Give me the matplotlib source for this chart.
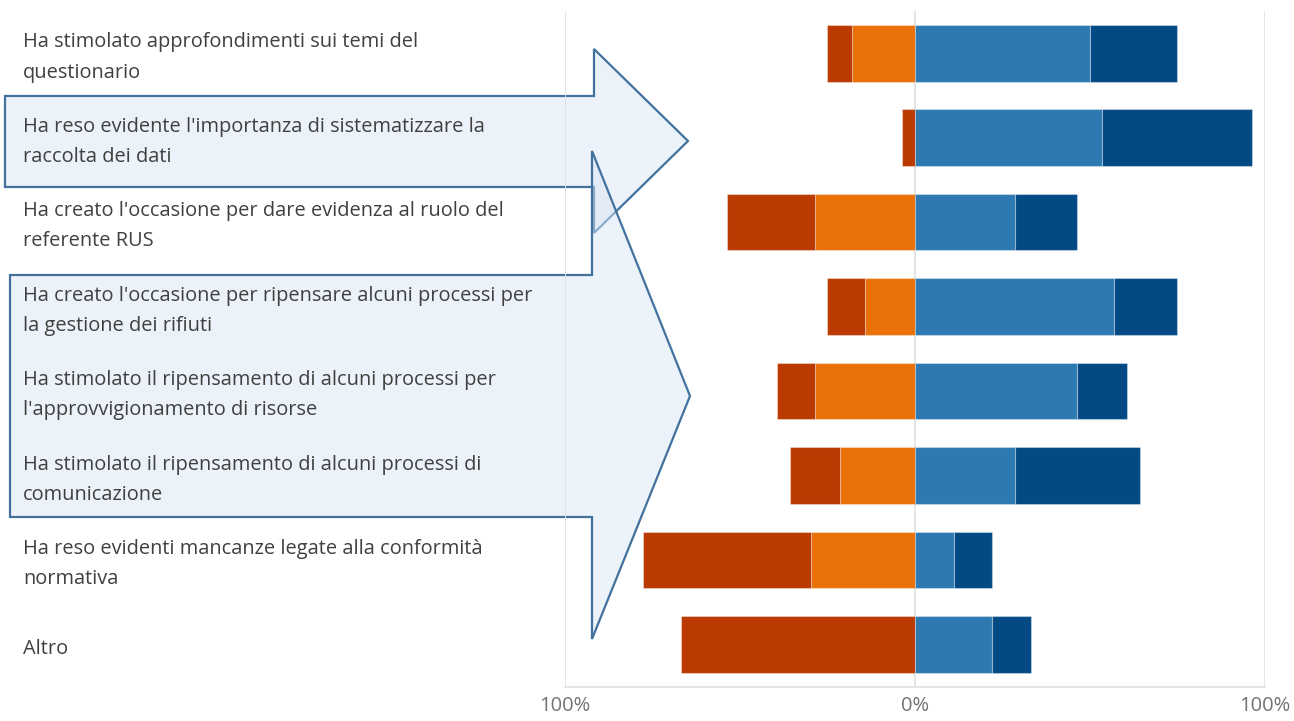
import matplotlib
matplotlib.use("Agg")
import matplotlib.pyplot as plt
import matplotlib.transforms as mtransforms
from matplotlib.patches import Polygon
import numpy as np

plt.rcParams["font.family"] = ["Open Sans", "DejaVu Sans"]

# dati (percentuali per risposta)
labels = [
    "Ha stimolato approfondimenti sui temi del\nquestionario",
    "Ha reso evidente l'importanza di sistematizzare la\nraccolta dei dati",
    "Ha creato l'occasione per dare evidenza al ruolo del\nreferente RUS",
    "Ha creato l'occasione per ripensare alcuni processi per\nla gestione dei rifiuti",
    "Ha stimolato il ripensamento di alcuni processi per\nl'approvvigionamento di risorse",
    "Ha stimolato il ripensamento di alcuni processi di\ncomunicazione",
    "Ha reso evidenti mancanze legate alla conformità\nnormativa",
    "Altro",
]
per_niente = [7.1, 3.6, 25.0, 10.7, 10.7, 14.3, 48.1, 66.7]
poco = [17.9, 0.0, 28.6, 14.3, 28.6, 21.4, 29.6, 0.0]
abbastanza = [50.0, 53.6, 28.6, 57.1, 46.4, 28.6, 11.1, 22.2]
molto = [25.0, 42.9, 17.9, 17.9, 14.3, 35.7, 11.1, 11.1]
x_ticks = [-100, 0, 100]
x_ticklabels = ["100%", "0%", "100%"]

colors = {
    "per_niente": "#BA3A02",
    "poco": "#EA7107",
    "abbastanza": "#2C7AB1",
    "molto": "#034A85",
}

W, H = 1294, 721
fig = plt.figure(figsize=(W / 100, H / 100), dpi=100)

# forme a freccia (sotto il testo)
over = fig.add_axes([0, 0, 1, 1], zorder=0)
over.set_xlim(0, W)
over.set_ylim(H, 0)
over.axis("off")

arrow1 = [(5, 96), (594, 96), (594, 49), (688, 141), (594, 233), (594, 187), (5, 187)]
arrow2 = [(10, 275), (592, 275), (592, 151), (690, 396), (592, 639), (592, 517), (10, 517)]
for pts in (arrow1, arrow2):
    over.add_patch(Polygon(pts, closed=True, facecolor=(0.855, 0.90, 0.955, 0.5),
                           edgecolor="#41719C", linewidth=1.6, joinstyle="miter"))

ax = fig.add_axes([565 / W, 1 - 686.7 / H, 699.5 / W, 675.7 / H], zorder=1)
ax.patch.set_visible(False)

y = np.arange(len(labels))
pn = np.array(per_niente)
po = np.array(poco)
ab = np.array(abbastanza)
mo = np.array(molto)
bh = 0.67
edge = dict(edgecolor=(1, 1, 1, 0.35), linewidth=0.8)

ax.barh(y, -po, height=bh, color=colors["poco"], **edge, zorder=3)
ax.barh(y, -pn, left=-po, height=bh, color=colors["per_niente"], **edge, zorder=3)
ax.barh(y, ab, height=bh, color=colors["abbastanza"], **edge, zorder=3)
ax.barh(y, mo, left=ab, height=bh, color=colors["molto"], **edge, zorder=3)

ax.set_xlim(-100, 100)
ax.set_ylim(len(labels) - 0.5, -0.5)
ax.set_yticks([])
ax.set_xticks(x_ticks)
ax.set_xticklabels(x_ticklabels, fontsize=14.5, color="#737373")
ax.tick_params(axis="x", length=0, pad=7)
for v in x_ticks:
    ax.axvline(v, color="#E3E3E3", lw=1.3, zorder=1)
for s in ["top", "left", "right"]:
    ax.spines[s].set_visible(False)
ax.spines["bottom"].set_color("#E3E3E3")
ax.spines["bottom"].set_linewidth(1.3)

# etichette a sinistra
trans = mtransforms.blended_transform_factory(fig.transFigure, ax.transData)
for i, lab in enumerate(labels):
    ax.text(23 / W, i + 0.05, lab, transform=trans, ha="left", va="center",
            fontsize=14.4, color="#404040", linespacing=1.68, clip_on=False)

fig.savefig("out.png", dpi=100)
